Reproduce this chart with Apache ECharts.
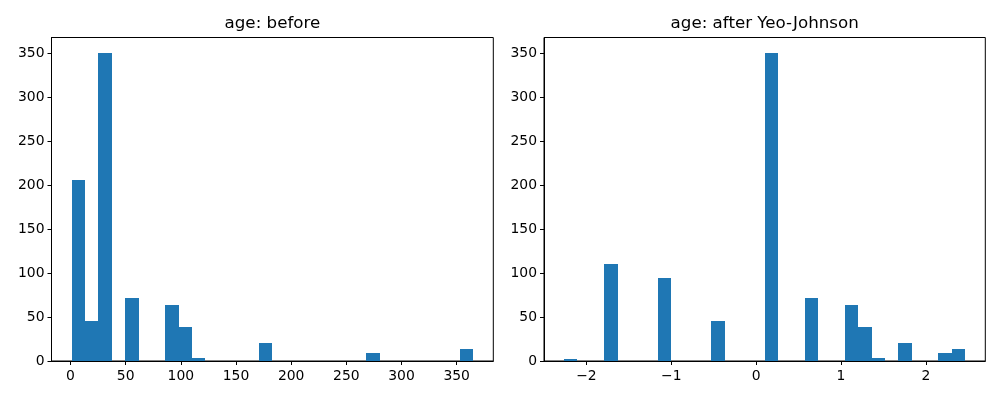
<!DOCTYPE html>
<html>
<head>
<meta charset="utf-8">
<script src="https://cdn.jsdelivr.net/npm/echarts@6/dist/echarts.min.js"></script>
<style>
html,body{margin:0;padding:0;background:#fff;}
#c{width:1000px;height:400px;}
</style>
</head>
<body>
<div id="c"></div>
<script>
// ---- data ----
const titles = ['age: before', 'age: after Yeo-Johnson'];
const binCount = 30;
const beforeRange = [1, 365];
const beforeCounts = [206, 46, 350, 0, 72, 0, 0, 64, 39, 3, 0, 0, 0, 0, 21, 0, 0, 0, 0, 0, 0, 0, 9, 0, 0, 0, 0, 0, 0, 14];
const afterRange = [-2.264, 2.464];
const afterCounts = [2, 0, 0, 110, 0, 0, 0, 94, 0, 0, 0, 46, 0, 0, 0, 350, 0, 0, 72, 0, 0, 64, 39, 3, 0, 21, 0, 0, 9, 14];
const beforeTicks = [0, 50, 100, 150, 200, 250, 300, 350];
const afterTicks = [-2, -1, 0, 1, 2];
const yTicks = [0, 50, 100, 150, 200, 250, 300, 350];

function binsToRows(range, counts) {
  const w = (range[1] - range[0]) / counts.length;
  return counts.map((c, i) => [range[0] + i * w, range[0] + (i + 1) * w, c]);
}
function padRange(range, frac) {
  const d = (range[1] - range[0]) * frac;
  return [range[0] - d, range[1] + d];
}

const FONT = 'DejaVu Sans';
const black = '#000';
const barColor = '#1f77b4';
const leftX = padRange(beforeRange, 0.05);
const rightX = padRange(afterRange, 0.05);
const yMax = Math.max(...beforeCounts, ...afterCounts) * 1.05;

function fmt(v) {
  return String(v).replace('-', '\u2212');
}

function xAxis(gridIndex, ext, ticks) {
  return {
    type: 'value', gridIndex: gridIndex, min: ext[0], max: ext[1],
    splitLine: {show: false},
    axisLine: {show: true, onZero: false, lineStyle: {color: black, width: 1}},
    axisTick: {show: true, length: 4, lineStyle: {color: black, width: 1}, customValues: ticks},
    axisLabel: {color: black, fontFamily: FONT, fontSize: 13.9, margin: 8, customValues: ticks, formatter: fmt}
  };
}
function yAxis(gridIndex) {
  return {
    type: 'value', gridIndex: gridIndex, min: 0, max: yMax,
    splitLine: {show: false},
    axisLine: {show: true, onZero: false, lineStyle: {color: black, width: 1}},
    axisTick: {show: true, length: 4, lineStyle: {color: black, width: 1}, customValues: yTicks},
    axisLabel: {color: black, fontFamily: FONT, fontSize: 13.9, margin: 7, customValues: yTicks}
  };
}
function renderItem(params, api) {
  const lo = api.value(0), hi = api.value(1), c = api.value(2);
  if (!c) return null;
  const p0 = api.coord([lo, 0]);
  const p1 = api.coord([hi, c]);
  const x0 = Math.round(p0[0]), x1 = Math.round(p1[0]);
  const yb = Math.round(p0[1]), yt = Math.round(p1[1]);
  return {
    type: 'rect',
    shape: {x: x0, y: yt, width: x1 - x0, height: yb - yt},
    style: {fill: barColor}
  };
}

const chart = echarts.init(document.getElementById('c'), null, {renderer: 'canvas'});
chart.setOption({
  animation: false,
  backgroundColor: '#fff',
  title: [
    {text: titles[0], left: 272.4, top: 15, padding: 0, textAlign: 'center',
     textStyle: {fontFamily: FONT, fontSize: 16.7, fontWeight: 'normal', color: black}},
    {text: titles[1], left: 764.7, top: 15, padding: 0, textAlign: 'center',
     textStyle: {fontFamily: FONT, fontSize: 16.7, fontWeight: 'normal', color: black}}
  ],
  grid: [
    {left: 51.5, right: 506.7, top: 37.5, bottom: 39, show: true, borderColor: black, borderWidth: 1, backgroundColor: 'transparent'},
    {left: 544, right: 14.7, top: 37.5, bottom: 39, show: true, borderColor: black, borderWidth: 1, backgroundColor: 'transparent'}
  ],
  xAxis: [xAxis(0, leftX, beforeTicks), xAxis(1, rightX, afterTicks)],
  yAxis: [yAxis(0), yAxis(1)],
  series: [
    {type: 'custom', xAxisIndex: 0, yAxisIndex: 0, renderItem: renderItem,
     encode: {x: [0, 1], y: 2}, data: binsToRows(beforeRange, beforeCounts)},
    {type: 'custom', xAxisIndex: 1, yAxisIndex: 1, renderItem: renderItem,
     encode: {x: [0, 1], y: 2}, data: binsToRows(afterRange, afterCounts)}
  ]
});
</script>
</body>
</html>
